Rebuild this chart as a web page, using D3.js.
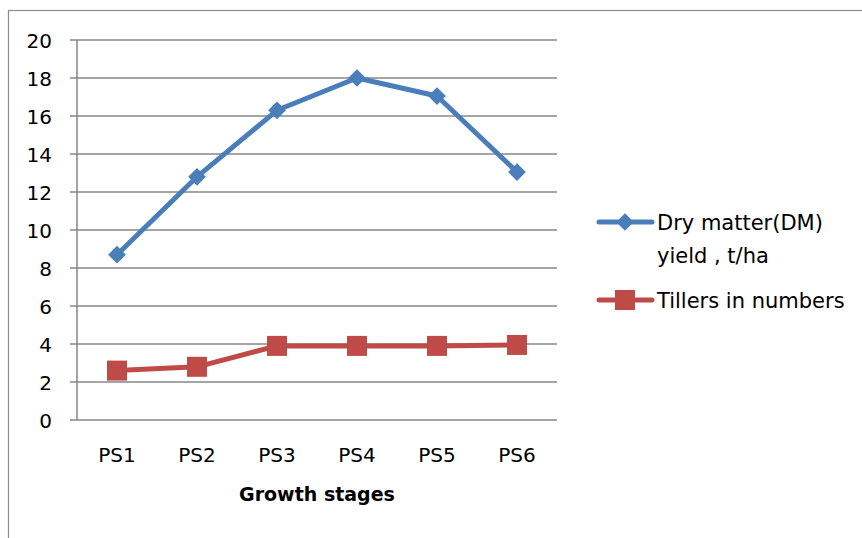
<!DOCTYPE html>
<html><head><meta charset="utf-8">
<script src="https://cdn.jsdelivr.net/npm/d3@7"></script>
<style>body{margin:0;background:#fff}svg{display:block}text{font-family:"DejaVu Sans",sans-serif;fill:#000}</style>
</head><body><svg id="c" width="862" height="538"></svg>
<script>
const categories = ["PS1","PS2","PS3","PS4","PS5","PS6"];
const dryMatter = [8.7, 12.8, 16.3, 18.0, 17.05, 13.05];
const tillers = [2.6, 2.8, 3.9, 3.9, 3.9, 3.95];
const yTicks = [0,2,4,6,8,10,12,14,16,18,20];
const seriesNames = [["Dry matter(DM)","yield , t/ha"],["Tillers in numbers"]];
const colors = ["#4A7EBB","#BE4B48"];

const svg = d3.select("#c");
svg.append("rect").attr("x",8.5).attr("y",10.5).attr("width",900).attr("height",600)
  .attr("fill","none").attr("stroke","#8c8c8c").attr("stroke-width",1.2);

const L=77,R=557,T=40,B=420;
const x = d3.scaleBand().domain(categories).range([L,R]);
const y = d3.scaleLinear().domain([0,20]).range([B,T]);

svg.append("g").selectAll("line").data(yTicks).join("line")
  .attr("x1",L-7).attr("x2",R).attr("y1",d=>y(d)).attr("y2",d=>y(d))
  .attr("stroke","#878787").attr("stroke-width",1.5);
svg.append("line").attr("x1",L).attr("x2",L).attr("y1",T).attr("y2",B)
  .attr("stroke","#878787").attr("stroke-width",1.5);

const yAxis = d3.axisLeft(y).tickValues(yTicks).tickSize(0).tickPadding(0);
const gy = svg.append("g").attr("transform",`translate(${L-25},0)`).call(yAxis);
gy.select(".domain").remove();
gy.selectAll("text").style("font-size","20px").attr("font-family",null).attr("dy","0.36em");

const xAxis = d3.axisBottom(x).tickSize(0).tickPadding(0);
const gx = svg.append("g").attr("transform",`translate(0,${B+35})`).call(xAxis);
gx.select(".domain").remove();
gx.selectAll("text").style("font-size","20px").attr("font-family",null).attr("dy","0.36em");

svg.append("text").attr("x",317).attr("y",494).attr("dy","0.36em").attr("text-anchor","middle")
  .style("font-size","19px").style("font-weight","bold").text("Growth stages");

const line = d3.line().x((d,i)=>x(categories[i])+x.bandwidth()/2).y(d=>y(d));
[dryMatter,tillers].forEach((s,k)=>{
  svg.append("path").datum(s).attr("d",line).attr("fill","none")
    .attr("stroke",colors[k]).attr("stroke-width",5).attr("stroke-linejoin","round");
});
const diamond = d3.symbol().type(d3.symbolDiamond2).size(200);
svg.append("g").selectAll("path").data(dryMatter).join("path")
  .attr("transform",(d,i)=>`translate(${x(categories[i])+x.bandwidth()/2},${y(d)})`)
  .attr("d",diamond()).attr("fill",colors[0]);
svg.append("g").selectAll("rect").data(tillers).join("rect")
  .attr("x",(d,i)=>x(categories[i])+x.bandwidth()/2-10).attr("y",d=>y(d)-10)
  .attr("width",20).attr("height",20).attr("fill",colors[1]);

const lg = svg.append("g");
const ly = [222,300];
ly.forEach((yy,k)=>{
  lg.append("line").attr("x1",599).attr("x2",652).attr("y1",yy).attr("y2",yy)
    .attr("stroke",colors[k]).attr("stroke-width",5).attr("stroke-linecap","round");
  if(k===0) lg.append("path").attr("transform",`translate(625,${yy})`).attr("d",diamond()).attr("fill",colors[0]);
  else lg.append("rect").attr("x",615).attr("y",yy-10).attr("width",20).attr("height",20).attr("fill",colors[1]);
  seriesNames[k].forEach((t,j)=>{
    lg.append("text").attr("x",657).attr("y",yy+j*33).attr("dy","0.36em")
      .style("font-size","21px").text(t);
  });
});
</script></body></html>
